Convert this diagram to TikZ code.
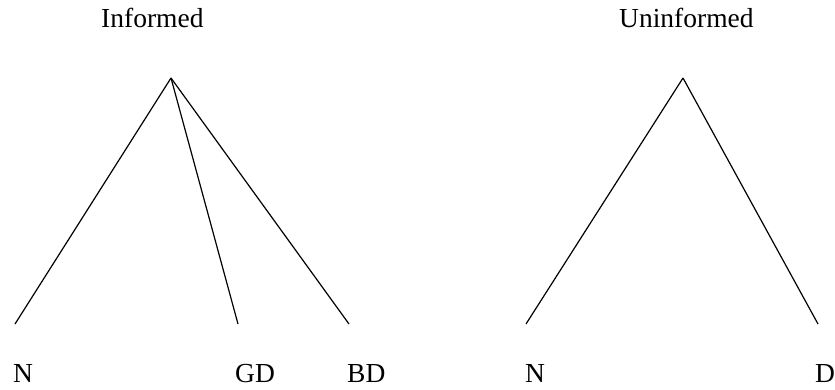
\documentclass[tikz,border=0pt]{standalone}
\usepackage{fontspec}
\setmainfont{Liberation Serif}
\begin{document}
\begin{tikzpicture}[x=1pt,y=-1pt,
  lbl/.style={inner sep=0pt,anchor=base west,font=\fontsize{27.5}{32}\selectfont},
  edge/.style={line width=1.2pt}]
\useasboundingbox (0,0) rectangle (835,390);
\node[lbl] (tI) at (101,28) {Informed};
\node[lbl] (tU) at (619,28) {Uninformed};
\coordinate (rL) at (171,78);
\coordinate (l1) at (15,324);
\coordinate (l2) at (238,324);
\coordinate (l3) at (349,324);
\coordinate (rR) at (683,78);
\coordinate (r1) at (526,324);
\coordinate (r2) at (818,324);
\draw[edge] (rL) -- (l1);
\draw[edge] (rL) -- (l2);
\draw[edge] (rL) -- (l3);
\draw[edge] (rR) -- (r1);
\draw[edge] (rR) -- (r2);
\node[lbl] (nN) at (13,382) {N};
\node[lbl] (nGD) at (235,382) {GD};
\node[lbl] (nBD) at (347,382) {BD};
\node[lbl] (nN2) at (525,382) {N};
\node[lbl] (nD) at (815,382) {D};
\end{tikzpicture}
\end{document}
